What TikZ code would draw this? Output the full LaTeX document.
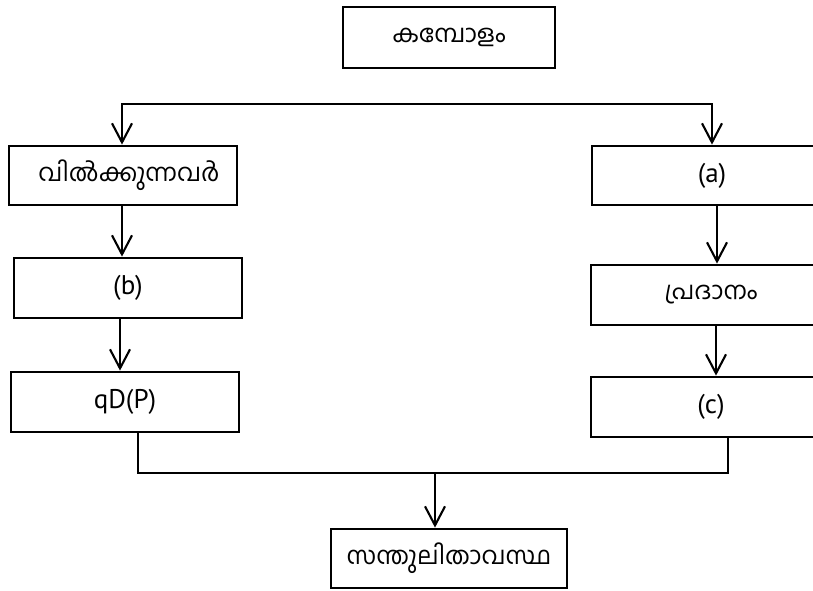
\documentclass[tikz,border=0pt]{standalone}
\usepackage{fontspec}
\setmainfont{PT Sans}
\newfontfamily\mlfont[Script=Malayalam]{Hind Kochi}
\usetikzlibrary{arrows.meta,calc}
\tikzset{
  box/.style={draw, line width=2.8pt, inner sep=0pt, anchor=center},
  conn/.style={line width=2.1pt},
  arr/.style={conn, -{Straight Barb[length=19pt,width=20pt,line width=2.1pt]}},
  dbl/.style={conn, {Straight Barb[length=19pt,width=20pt,line width=2.1pt]}-{Straight Barb[length=19pt,width=20pt,line width=2.1pt]}},
  ml/.style={font=\mlfont\fontsize{24.5}{28}\selectfont},
  lt/.style={font=\fontsize{27}{31}\selectfont}
}
\begin{document}
\begin{tikzpicture}[x=1pt,y=-1pt]
\useasboundingbox (0,0) rectangle (813,590);
% nodes
\node[box, ml, minimum width=212pt, minimum height=61pt] (top) at (449,37.5) {കമ്പോളം};
\node[box, ml, minimum width=228pt, minimum height=59pt] (sell) at (123,175.5) {\hspace*{12pt}വിൽക്കുന്നവർ};
\node[box, lt, minimum width=240pt, minimum height=59pt] (a) at (712,175.5) {(a)};
\node[box, lt, minimum width=228pt, minimum height=60pt] (b) at (128,288) {(b)};
\node[box, lt, minimum width=228pt, minimum height=60pt] (qd) at (125,402) {qD(P)};
\node[box, ml, minimum width=240pt, minimum height=60pt] (pr) at (711,295) {പ്രദാനം};
\node[box, lt, minimum width=240pt, minimum height=60pt] (c) at (711,407) {(c)};
\node[box, ml, minimum width=236pt, minimum height=59pt] (eq) at (449,558.5) {സന്തുലിതാവസ്ഥ};
% coordinates
\coordinate (hl) at (122,104);
\coordinate (hr) at (712,104);
\coordinate (jl) at (138,473);
\coordinate (jr) at (728,473);
\coordinate (jm) at (435,473);
% connectors
\draw[dbl] (hl |- sell.north) -- (hl) -- (hr) -- (hr |- a.north);
\draw[arr] ([xshift=-1pt]sell.south) -- ([xshift=-1pt]sell.south |- b.north);
\draw[arr] ([xshift=-8pt]b.south) -- ([xshift=-8pt]b.south |- qd.north);
\draw[arr] ([xshift=5pt]a.south) -- ([xshift=5pt]a.south |- pr.north);
\draw[arr] ([xshift=5pt]pr.south) -- ([xshift=5pt]pr.south |- c.north);
\draw[conn] (jl |- qd.south) -- (jl) -- (jr) -- ([yshift=2pt]jr |- c.south);
\draw[arr] (jm) -- (jm |- eq.north);
\end{tikzpicture}
\end{document}
